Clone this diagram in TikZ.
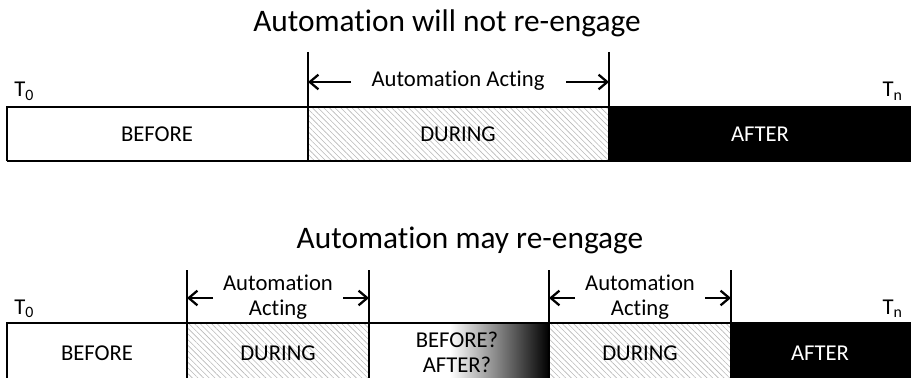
\documentclass[tikz,border=0pt]{standalone}
\usepackage{fontspec}
\setmainfont[Ligatures=NoCommon]{Carlito}
\usetikzlibrary{patterns.meta,arrows.meta}
\begin{document}
\begin{tikzpicture}[x=0.75pt,y=-0.75pt,
  frame/.style={line width=1.7pt},
  tick/.style={line width=1.7pt},
  span/.style={line width=1.7pt,-{Straight Barb[length=6.5pt,width=11pt,line width=1.7pt]}},
  hatch/.style={pattern={Lines[angle=-45,distance=3pt,line width=0.45pt]},pattern color=black!28},
  label/.style={font=\fontsize{17}{20}\selectfont,inner sep=0pt},
  title/.style={font=\fontsize{23.5}{28}\selectfont,inner sep=0pt,anchor=base},
  stamp/.style={font=\fontsize{17}{20}\selectfont,inner sep=0pt},
]
\useasboundingbox (0,0) rectangle (911,378);
\clip (0,0) rectangle (911,378);

% ---------- upper timeline ----------
\node[title] (title1) at (447,32) {Automation will not re-engage};

\path[hatch] (308,107) rectangle (609,161);
\fill[black] (609,107) rectangle (912,161);
\draw[frame] (7,161) -- (7,107) -- (912,107);
\draw[frame] (7,161) -- (912,161);
\draw[tick] (308,52) -- (308,161);
\draw[tick] (609,52) -- (609,161);

\coordinate (u1) at (308,82);
\coordinate (u2) at (609,82);
\node[label] (act1) at (458,81) {Automation Acting};
\coordinate (u1a) at (351,82);
\coordinate (u2a) at (566,82);
\draw[span] (u1a) -- (u1);
\draw[span] (u2a) -- (u2);

\node[stamp,anchor=base west] (t0a) at (14,97) {T\textsubscript{0}};
\node[stamp,anchor=base east] (tna) at (903,97) {T\textsubscript{n}};

\node[label] (bef1) at (157,134) {BEFORE};
\node[label] (dur1) at (458,134) {DURING};
\node[label,text=white] (aft1) at (760,134) {AFTER};

% ---------- lower timeline ----------
\node[title] (title2) at (470,248) {Automation may re-engage};

\path[hatch] (187,323) rectangle (369,390);
\path[hatch] (549,323) rectangle (731,390);
\fill[white] (369,323) rectangle (450,390);
\shade[left color=white,right color=black] (450,323) rectangle (549,390);
\fill[black] (731,323) rectangle (912,390);
\draw[frame] (7,390) -- (7,323) -- (912,323);
\draw[tick] (187,270) -- (187,390);
\draw[tick] (369,270) -- (369,390);
\draw[tick] (549,270) -- (549,390);
\draw[tick] (731,270) -- (731,390);

\node[label,align=center] (act2) at (278,297) {Automation\\[-1pt]Acting};
\node[label,align=center] (act3) at (640,297) {Automation\\[-1pt]Acting};
\coordinate (l1) at (187,298);
\coordinate (l2) at (369,298);
\coordinate (l3) at (549,298);
\coordinate (l4) at (731,298);
\coordinate (l1a) at (213,298);
\coordinate (l2a) at (343,298);
\coordinate (l3a) at (575,298);
\coordinate (l4a) at (705,298);
\draw[span] (l1a) -- (l1);
\draw[span] (l2a) -- (l2);
\draw[span] (l3a) -- (l3);
\draw[span] (l4a) -- (l4);

\node[stamp,anchor=base west] (t0b) at (14,314) {T\textsubscript{0}};
\node[stamp,anchor=base east] (tnb) at (903,314) {T\textsubscript{n}};

\node[label] (bef2) at (97,353) {BEFORE};
\node[label] (dur2) at (278,353) {DURING};
\node[label,align=center] (amb) at (457,352) {BEFORE?\\[-1pt]AFTER?};
\node[label] (dur3) at (640,353) {DURING};
\node[label,text=white] (aft2) at (820,353) {AFTER};
\end{tikzpicture}
\end{document}
